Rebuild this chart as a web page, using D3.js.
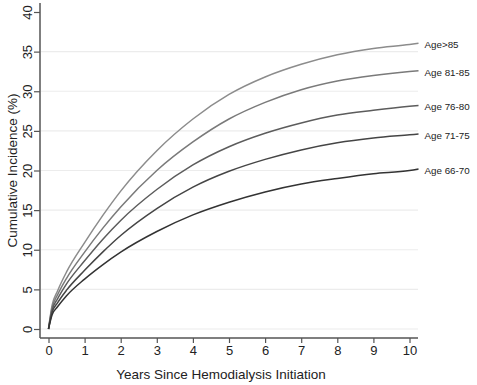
<!DOCTYPE html>
<html>
<head>
<meta charset="utf-8">
<script src="https://cdn.jsdelivr.net/npm/d3@7"></script>
<style>
  body { margin: 0; background: #fff; }
  svg { font-family: "Liberation Sans", Arial, sans-serif; }
  .axis text { fill: #222; font-size: 13px; }
  .axis path, .axis line { stroke: #555; }
  .grid line { stroke: #ececec; }
  .age-label { font-size: 9.8px; fill: #222; }
</style>
</head>
<body>
<svg id="chart"></svg>
<script>
// Years since initiation (x values shared by all curves)
const years = [0, 0.1, 0.25, 0.5, 1, 1.5, 2, 3, 4, 5, 6, 7, 8, 9, 10, 10.25];

// Cumulative incidence (%) per age group
const age85plus = [0, 3.0, 4.8, 7.2, 10.9, 14.3, 17.4, 22.5, 26.5, 29.6, 31.8, 33.4, 34.6, 35.4, 35.9, 36.05];
const age81_85  = [0, 2.7, 4.3, 6.4, 9.7, 12.7, 15.4, 20.0, 23.6, 26.5, 28.6, 30.2, 31.3, 32.0, 32.5, 32.6];
const age76_80  = [0, 2.4, 3.8, 5.7, 8.6, 11.3, 13.7, 17.6, 20.7, 23.0, 24.7, 26.0, 27.0, 27.6, 28.1, 28.2];
const age71_75  = [0, 2.1, 3.3, 4.9, 7.4, 9.7, 11.8, 15.2, 17.9, 19.9, 21.4, 22.6, 23.5, 24.1, 24.5, 24.6];
const age66_70  = [0, 1.8, 2.8, 4.2, 6.3, 8.1, 9.7, 12.3, 14.4, 16.0, 17.3, 18.3, 19.0, 19.6, 20.0, 20.2];

const seriesNames = ['Age>85', 'Age 81-85', 'Age 76-80', 'Age 71-75', 'Age 66-70'];
const seriesValues = [age85plus, age81_85, age76_80, age71_75, age66_70];
const seriesColors = ['#8c8c8c', '#7a7a7a', '#5c5c5c', '#454545', '#333333'];

const xTicks = [0, 1, 2, 3, 4, 5, 6, 7, 8, 9, 10];
const yTicks = [0, 5, 10, 15, 20, 25, 30, 35, 40];

const width = 477, height = 385;
const svg = d3.select('#chart').attr('width', width).attr('height', height);

const xScale = d3.scaleLinear().domain([0, 10]).range([48.5, 409.5]);
const yScale = d3.scaleLinear().domain([0, 40]).range([329, 12]);
const plotLeft = 40, plotRight = 418, plotBottom = 338, plotTop = 3;

// Horizontal gridlines
svg.append('g')
    .attr('class', 'grid')
  .selectAll('line')
    .data(yTicks.filter(d => d < 40))
  .join('line')
    .attr('x1', plotLeft + 1)
    .attr('x2', plotRight)
    .attr('y1', d => yScale(d))
    .attr('y2', d => yScale(d))
    .attr('stroke-width', 1.2);

// Axes
const xAxis = d3.axisBottom(xScale)
    .tickValues(xTicks)
    .tickSize(5)
    .tickSizeOuter(0)
    .tickPadding(3);

const yAxis = d3.axisLeft(yScale)
    .tickValues(yTicks)
    .tickSize(6)
    .tickSizeOuter(0)
    .tickPadding(4);

const xAxisG = svg.append('g')
    .attr('class', 'axis x-axis')
    .attr('transform', `translate(0,${plotBottom})`)
    .call(xAxis);
xAxisG.select('.domain').attr('d', `M${plotLeft},0H${plotRight}`).attr('stroke-width', 1.5);
xAxisG.selectAll('.tick line').attr('stroke-width', 1.2);

const yAxisG = svg.append('g')
    .attr('class', 'axis y-axis')
    .attr('transform', `translate(${plotLeft},0)`)
    .call(yAxis);
yAxisG.select('.domain').attr('d', `M0,${plotTop}V${plotBottom}`).attr('stroke-width', 1.5);
yAxisG.selectAll('.tick line').attr('stroke-width', 1.2);
// Vertical tick labels, as in the original
yAxisG.selectAll('.tick text')
    .attr('x', 0)
    .attr('text-anchor', 'middle')
    .attr('transform', 'translate(-13,0) rotate(-90)')
    .attr('dy', '0.35em');

// Axis titles
svg.append('text')
    .attr('x', 221)
    .attr('y', 379)
    .attr('text-anchor', 'middle')
    .attr('font-size', 13.5)
    .attr('fill', '#222')
    .text('Years Since Hemodialysis Initiation');

svg.append('text')
    .attr('transform', `translate(12,${yScale(20)}) rotate(-90)`)
    .attr('text-anchor', 'middle')
    .attr('dy', '0.35em')
    .attr('font-size', 13.5)
    .attr('fill', '#222')
    .text('Cumulative Incidence (%)');

// Curves
const line = d3.line()
    .x((d, i) => xScale(years[i]))
    .y(d => yScale(d))
    .curve(d3.curveMonotoneX);

svg.append('g')
  .selectAll('path')
    .data(seriesValues)
  .join('path')
    .attr('fill', 'none')
    .attr('stroke', (d, i) => seriesColors[i])
    .attr('stroke-width', 1.5)
    .attr('d', line);

// End labels
svg.append('g')
  .selectAll('text')
    .data(seriesValues)
  .join('text')
    .attr('class', 'age-label')
    .attr('x', xScale(years[years.length - 1]) + 6)
    .attr('y', d => yScale(d[d.length - 1]) + 1.5)
    .attr('dy', '0.35em')
    .text((d, i) => seriesNames[i]);
</script>
</body>
</html>
